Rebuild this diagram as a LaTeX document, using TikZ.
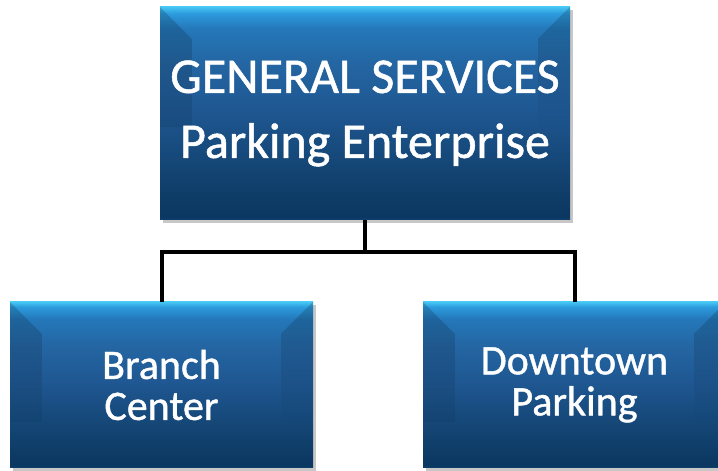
\documentclass[tikz,border=0pt]{standalone}
\usepackage{fontspec}
\setmainfont{Carlito}[FakeBold=1]
\usetikzlibrary{shadows,calc,fadings}
\definecolor{btop}{HTML}{45C5F2}
\definecolor{btopb}{HTML}{2C9BDD}
\definecolor{bhigh}{HTML}{2478BA}
\definecolor{bupper}{HTML}{2466A3}
\definecolor{bmid}{HTML}{1E5690}
\definecolor{blow}{HTML}{12426F}
\definecolor{bbot}{HTML}{0B3761}
\definecolor{bedge}{HTML}{0F3F6C}
\tikzfading[name=bandfade, top color=transparent!0, bottom color=transparent!100]
\pgfdeclareverticalshading{boxshade}{100bp}{color(0bp)=(bedge); color(25bp)=(bedge); color(26bp)=(bbot); color(35bp)=(blow); color(50bp)=(bmid); color(62bp)=(bupper); color(70bp)=(bhigh); color(73.5bp)=(btopb); color(75bp)=(btop); color(100bp)=(btop)}
\tikzset{
  orgbox/.style={rectangle, inner sep=0pt, shading=boxshade, text=white, align=center,
    drop shadow={shadow xshift=3pt, shadow yshift=-3pt, fill=black, opacity=0.22},
    path picture={
      \fill[black, opacity=0.18, path fading=bandfade]
        (path picture bounding box.north west) -- ++(32pt,-32pt) -- ++(0,-88pt) -- ++(-32pt,0) -- cycle;
      \fill[black, opacity=0.18, path fading=bandfade]
        (path picture bounding box.north east) -- ++(-32pt,-32pt) -- ++(0,-88pt) -- ++(32pt,0) -- cycle;
    }},
  conn/.style={line width=4pt, black}
}
\begin{document}
\begin{tikzpicture}[x=1pt, y=1pt]
\useasboundingbox (0,0) rectangle (718,471);
\node[orgbox, minimum width=410pt, minimum height=213pt,
      font=\fontsize{50}{65}\selectfont] (top) at (365,357.5)
  {GENERAL SERVICES\\Parking Enterprise};
\begin{scope}
\clip (0,0) rectangle (718,471);
\node[orgbox, minimum width=303pt, minimum height=166pt,
      font=\fontsize{42}{41}\selectfont] (left) at (161.5,86)
  {Branch\\Center};
\node[orgbox, minimum width=303pt, minimum height=166pt,
      font=\fontsize{42}{41}\selectfont] (right) at (574.5,86)
  {Downtown\\Parking};
\end{scope}
\draw[conn] (top.south) -- ++(0,-32) coordinate (j) -| (left.north);
\draw[conn] (j) -| (right.north);
\end{tikzpicture}
\end{document}
